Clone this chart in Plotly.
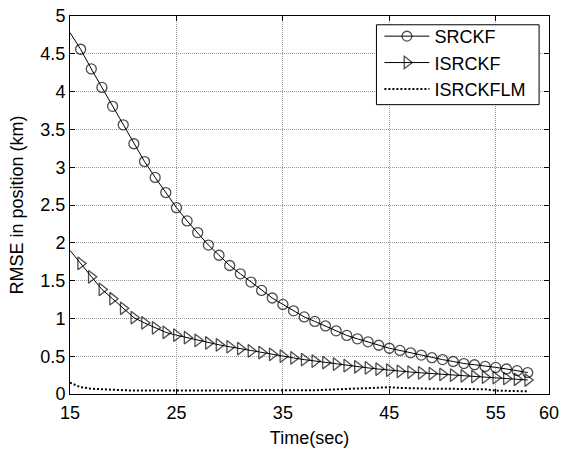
import plotly.graph_objects as go

time = list(range(15, 59))

srckf = [4.78, 4.56, 4.30, 4.055, 3.805, 3.56, 3.31, 3.075, 2.865, 2.665, 2.465,
         2.29, 2.135, 1.97, 1.835, 1.70, 1.59, 1.48, 1.37, 1.27, 1.185, 1.10,
         1.02, 0.96, 0.90, 0.835, 0.775, 0.73, 0.69, 0.645, 0.605, 0.576, 0.545,
         0.515, 0.48, 0.455, 0.43, 0.403, 0.387, 0.365, 0.352, 0.331, 0.309, 0.284]

isrckf = [1.90, 1.727, 1.55, 1.383, 1.26, 1.134, 1.01, 0.94, 0.875, 0.815, 0.778,
          0.745, 0.71, 0.675, 0.65, 0.625, 0.60, 0.57, 0.548, 0.525, 0.50, 0.477,
          0.455, 0.435, 0.415, 0.395, 0.375, 0.36, 0.345, 0.33, 0.315, 0.30, 0.29,
          0.28, 0.27, 0.26, 0.25, 0.24, 0.23, 0.222, 0.215, 0.205, 0.195, 0.185]

isrckflm = [0.15, 0.09, 0.07, 0.06, 0.055, 0.05, 0.045, 0.045, 0.045, 0.045, 0.045,
            0.045, 0.045, 0.045, 0.045, 0.045, 0.045, 0.045, 0.045, 0.045, 0.045, 0.045,
            0.045, 0.05, 0.055, 0.06, 0.065, 0.07, 0.075, 0.08, 0.09, 0.08, 0.075,
            0.072, 0.07, 0.07, 0.068, 0.066, 0.065, 0.063, 0.045, 0.04, 0.037, 0.035]

x_ticks = [15, 25, 35, 45, 55, 60]
y_ticks = [0, 0.5, 1, 1.5, 2, 2.5, 3, 3.5, 4, 4.5, 5]
y_ticklabels = ["0", "0.5", "1", "1.5", "2", "2.5", "3", "3.5", "4", "4.5", "5"]

FONT = "Liberation Sans, Arial, sans-serif"
FS = 18

# no marker drawn at the first sample (t=15), as in the reference
circle_sizes = [0] + [10] * (len(time) - 1)
tri_sizes = [0] + [11] * (len(time) - 1)

fig = go.Figure()
fig.add_trace(go.Scatter(x=time, y=srckf, mode="lines+markers", name="SRCKF",
                         line=dict(color="black", width=1),
                         marker=dict(symbol="circle-open", size=circle_sizes, color="black",
                                     line=dict(width=1.3, color="black"))))
fig.add_trace(go.Scatter(x=time, y=isrckf, mode="lines+markers", name="ISRCKF",
                         line=dict(color="black", width=1),
                         marker=dict(symbol="triangle-right-open", size=tri_sizes, color="black",
                                     line=dict(width=1.3, color="black"))))
fig.add_trace(go.Scatter(x=time, y=isrckflm, mode="lines", name="ISRCKFLM",
                         line=dict(color="black", width=2, dash="2px,2px")))

axis_common = dict(showline=True, linecolor="black", linewidth=1, mirror="ticks",
                   ticks="inside", ticklen=5, tickcolor="black", tickwidth=1,
                   showgrid=True, gridcolor="#9a9a9a", gridwidth=1, griddash="1px,1px",
                   zeroline=False, ticklabeloverflow="allow",
                   tickfont=dict(family=FONT, size=FS, color="black"))

fig.update_xaxes(range=[15, 60], tickvals=x_ticks, ticktext=[str(v) for v in x_ticks],
                 ticklabelstandoff=2,
                 title=dict(text="Time(sec)", font=dict(family=FONT, size=FS, color="black"),
                            standoff=9),
                 **axis_common)
fig.update_yaxes(range=[0, 5], tickvals=y_ticks, ticktext=y_ticklabels,
                 title=dict(text="RMSE in position (km)",
                            font=dict(family=FONT, size=FS, color="black"), standoff=12),
                 **axis_common)

# legend frame (MATLAB-style box)
fig.add_shape(type="rect", xref="paper", yref="paper",
              x0=(379 - 70) / 483, x1=(543 - 70) / 483,
              y0=(394 - 97) / 388, y1=(394 - 15) / 388,
              line=dict(color="black", width=1), fillcolor="white", layer="above")

fig.update_layout(
    width=565, height=451,
    margin=dict(l=70, r=12, t=6, b=57),
    paper_bgcolor="white", plot_bgcolor="white",
    font=dict(family=FONT, size=FS, color="black"),
    legend=dict(x=(382 - 70) / 483, y=(394 - 8) / 388, xanchor="left", yanchor="top",
                borderwidth=0, bgcolor="rgba(0,0,0,0)",
                font=dict(family=FONT, size=FS, color="black"),
                itemwidth=45, tracegroupgap=0),
    showlegend=True,
)

fig.write_html("out.html", config={"displayModeBar": False},
               post_script="document.body.style.margin='0';")
